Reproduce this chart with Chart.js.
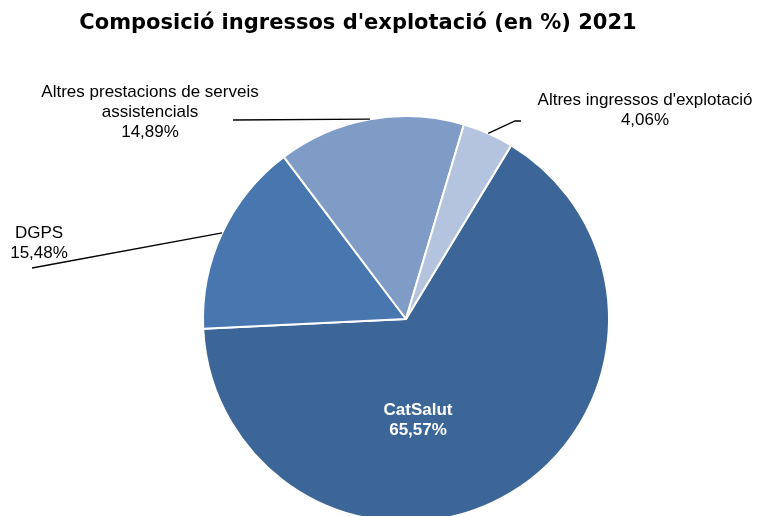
<!DOCTYPE html>
<html>
<head>
<meta charset="utf-8">
<script src="https://cdn.jsdelivr.net/npm/chart.js@4.4.0/dist/chart.umd.min.js"></script>
<style>
  html, body { margin: 0; padding: 0; background: #fff; overflow: hidden; }
  #wrap { width: 758px; height: 516px; overflow: hidden; position: relative; }
  canvas { display: block; }
</style>
</head>
<body>
<div id="wrap"><canvas id="c" width="758" height="540" style="width:758px;height:540px"></canvas></div>
<script>
const categories = ["CatSalut", "DGPS", "Altres prestacions de serveis assistencials", "Altres ingressos d'explotació"];
const values = [65.57, 15.48, 14.89, 4.06];
const valueLabels = ["65,57%", "15,48%", "14,89%", "4,06%"];
const colors = ["#3d6698", "#4877af", "#7f9cc7", "#b4c3de"];
const titleText = "Composició ingressos d'explotació (en %) 2021";

// label layout (styling only)
const labelLayout = [
  { inside: true, x: 418, y: 410, lines: ["CatSalut", "65,57%"] },
  { x: 39, y: 233, lines: ["DGPS", "15,48%"], path: [[32, 268]] },
  { x: 150, y: 92, lines: ["Altres prestacions de serveis", "assistencials", "14,89%"], path: [[233, 120]] },
  { x: 645, y: 100, lines: ["Altres ingressos d'explotació", "4,06%"], path: [[515, 121], [521, 121]] }
];

const labelPlugin = {
  id: 'labels',
  afterDraw(chart) {
    const ctx = chart.ctx;
    ctx.save();
    // title
    ctx.fillStyle = '#000';
    ctx.font = 'bold 21px "DejaVu Sans"';
    ctx.textAlign = 'center';
    ctx.textBaseline = 'middle';
    ctx.fillText(titleText, 358, 24);

    const meta = chart.getDatasetMeta(0);
    meta.data.forEach((arc, i) => {
      const L = labelLayout[i];
      const p = arc.getProps(['x', 'y', 'startAngle', 'endAngle', 'outerRadius'], true);
      const mid = (p.startAngle + p.endAngle) / 2;
      if (!L.inside) {
        const ax = p.x + Math.cos(mid) * p.outerRadius;
        const ay = p.y + Math.sin(mid) * p.outerRadius;
        ctx.beginPath();
        ctx.strokeStyle = '#000';
        ctx.lineWidth = 1.3;
        ctx.moveTo(ax, ay);
        L.path.forEach(pt => ctx.lineTo(pt[0], pt[1]));
        ctx.stroke();
      }
      ctx.fillStyle = L.inside ? '#fff' : '#000';
      ctx.font = (L.inside ? 'bold ' : '') + '17px "Liberation Sans", Arial, sans-serif';
      ctx.textAlign = 'center';
      ctx.textBaseline = 'middle';
      L.lines.forEach((t, k) => ctx.fillText(t, L.x, L.y + k * 20));
    });
    ctx.restore();
  }
};

new Chart(document.getElementById('c'), {
  type: 'pie',
  data: {
    labels: categories,
    datasets: [{
      data: values,
      backgroundColor: colors,
      borderColor: '#ffffff',
      borderWidth: 2
    }]
  },
  options: {
    responsive: false,
    animation: false,
    rotation: 31.2,
    layout: { padding: { left: 202, right: 148, top: 115, bottom: 17 } },
    plugins: {
      legend: { display: false },
      tooltip: { enabled: false },
      title: { display: false }
    }
  },
  plugins: [labelPlugin]
});
</script>
</body>
</html>
